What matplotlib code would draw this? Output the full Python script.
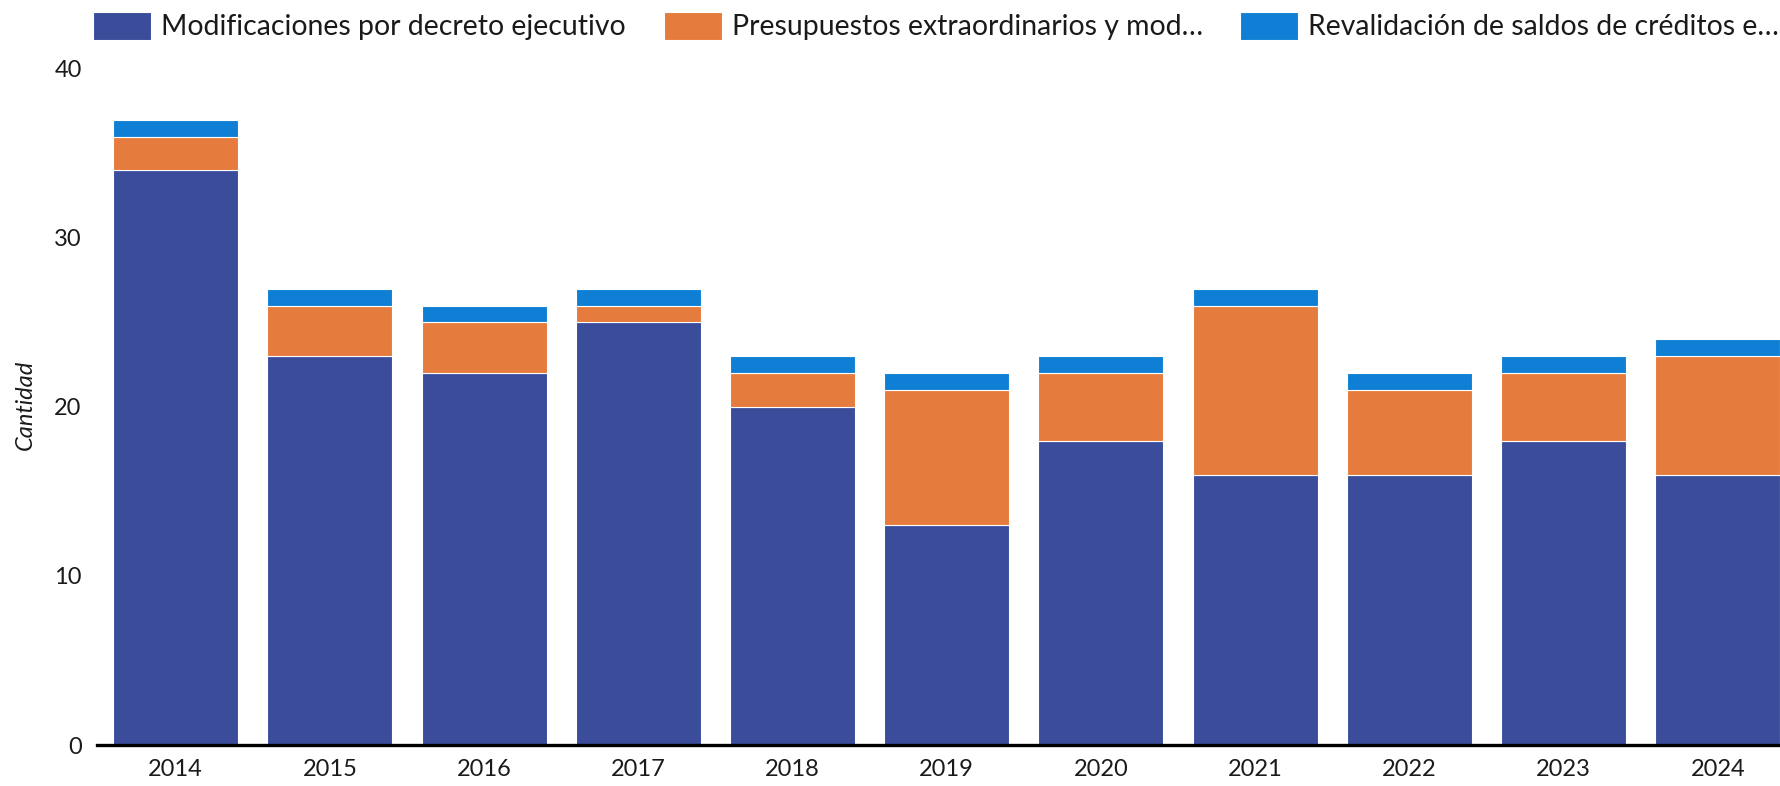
import matplotlib
matplotlib.use("Agg")
import matplotlib.pyplot as plt
import numpy as np

years = ["2014", "2015", "2016", "2017", "2018", "2019", "2020", "2021", "2022", "2023", "2024"]
decreto = [34, 23, 22, 25, 20, 13, 18, 16, 16, 18, 16]
presupuestos = [2, 3, 3, 1, 2, 8, 4, 10, 5, 4, 7]
revalidacion = [1, 1, 1, 1, 1, 1, 1, 1, 1, 1, 1]
series_names = ["Modificaciones por decreto ejecutivo",
                "Presupuestos extraordinarios y mod…",
                "Revalidación de saldos de créditos e…"]
colors = ["#3A4C9A", "#E57B3C", "#0E7FD4"]
yticks = [0, 10, 20, 30, 40]

plt.rcParams['font.family'] = ['Lato', 'DejaVu Sans']

fig = plt.figure(figsize=(17.81, 7.86), dpi=100)
ax = fig.add_axes([97/1781, 1-745/786, 1-97/1781, (745-69)/786])

x = np.arange(len(years))
w = 0.81
bottom = np.zeros(len(years))
for vals, name, c in zip([decreto, presupuestos, revalidacion], series_names, colors):
    ax.bar(x, vals, w, bottom=bottom, color=c, edgecolor='white', linewidth=0.8, label=name)
    bottom += np.array(vals)

ax.set_xlim(-0.51, 10.41)
ax.set_ylim(0, 40)
ax.set_xticks(x)
ax.set_xticklabels(years)
ax.set_yticks(yticks)
ax.set_yticklabels([str(v) for v in yticks])
ax.tick_params(axis='x', length=0, pad=10, labelsize=17, colors='#1a1a1a')
ax.tick_params(axis='y', length=0, pad=11, labelsize=17, colors='#1a1a1a')
for s in ['top', 'right', 'left']:
    ax.spines[s].set_visible(False)
ax.spines['bottom'].set_linewidth(2.4)
ax.spines['bottom'].set_color('black')

fig.text(25/1781, 1-405/786, "Cantidad", rotation=90, ha='center', va='center',
         fontsize=17, style='italic', color='#1a1a1a')

handles, labels = ax.get_legend_handles_labels()
leg = fig.legend(handles, labels, loc='center right', bbox_to_anchor=(0.999, 1-26/786),
                 ncol=3, frameon=False, fontsize=20.4, handlelength=2.05, handleheight=1.15,
                 handletextpad=0.36, columnspacing=1.32, borderpad=0, borderaxespad=0)
for t in leg.get_texts():
    t.set_color('#1a1a1a')

fig.savefig("out.png", dpi=100)
